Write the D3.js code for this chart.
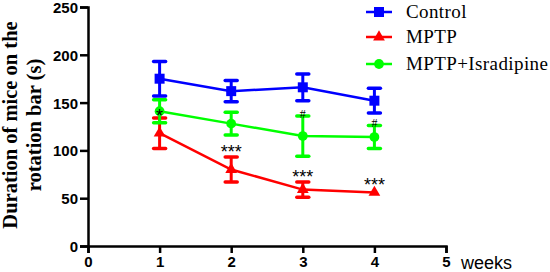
<!DOCTYPE html>
<html>
<head>
<meta charset="utf-8">
<script src="https://cdn.jsdelivr.net/npm/d3@7"></script>
<style>
  body { margin: 0; background: #fff; }
  svg { display: block; }
</style>
</head>
<body>
<div id="chart"></div>
<script>
// weeks on the x axis
const weeks = [1, 2, 3, 4];
const xTicks = [0, 1, 2, 3, 4, 5];
const yTicks = [0, 50, 100, 150, 200, 250];

// mean duration (s) and error (SEM) per group
const controlMean = [175, 162, 166, 152];
const controlErr = [18, 11, 14, 13];
const mptpMean = [118, 80, 59, 56];
const mptpErr = [16, 13, 8, 0];
const israMean = [141, 128, 115, 114];
const israErr = [12, 12, 21, 12];

const seriesNames = ["Control", "MPTP", "MPTP+Isradipine"];

// significance marks: week, y value, label
const starMarks = [[1, 130, "*"], [2, 92, "***"], [3, 66, "***"], [4, 58, "***"]];
const hashMarks = [[3, 134, "#"], [4, 124, "#"]];

const width = 550, height = 272;
const margin = { top: 7, right: 103, bottom: 26, left: 88 };

const svg = d3.select("#chart").append("svg")
    .attr("width", width)
    .attr("height", height);

const x = d3.scaleLinear()
    .domain([0, 5])
    .range([margin.left, width - margin.right - 1]);

const y = d3.scaleLinear()
    .domain([0, 250])
    .range([height - margin.bottom, margin.top]);

const series = [
    { name: seriesNames[0], mean: controlMean, err: controlErr, color: "#0000ff", shape: d3.symbolSquare, size: 100 },
    { name: seriesNames[1], mean: mptpMean, err: mptpErr, color: "#ff0000", shape: d3.symbolTriangle, size: 60 },
    { name: seriesNames[2], mean: israMean, err: israErr, color: "#00ff00", shape: d3.symbolCircle, size: 75 }
];

// axes
const yAxis = svg.append("g")
    .attr("transform", "translate(" + x(0) + ",0)")
    .call(d3.axisLeft(y).tickValues(yTicks).tickFormat(d3.format("d")).tickSize(8).tickPadding(2));
const xAxis = svg.append("g")
    .attr("transform", "translate(0," + y(0) + ")")
    .call(d3.axisBottom(x).tickValues(xTicks).tickFormat(d3.format("d")).tickSize(7).tickPadding(3));

[yAxis, xAxis].forEach(ax => {
    ax.select(".domain").attr("stroke", "#000").attr("stroke-width", 2.5);
    ax.selectAll(".tick line").attr("stroke", "#000").attr("stroke-width", 2.5);
    ax.selectAll(".tick text")
        .attr("fill", "#000")
        .style("font-family", "Liberation Sans, Arial, sans-serif")
        .style("font-weight", "bold")
        .style("font-size", "15px");
});
yAxis.selectAll(".tick text").attr("dy", "0.36em");

svg.append("text")
    .attr("x", 461)
    .attr("y", 269)
    .style("font-family", "Liberation Sans, Arial, sans-serif")
    .style("font-size", "18px")
    .text("weeks");

// y axis title
const yTitle = svg.append("text")
    .attr("transform", "translate(0," + 125 + ") rotate(-90)")
    .attr("text-anchor", "middle")
    .style("font-family", "Liberation Serif, Times New Roman, serif")
    .style("font-weight", "bold")
    .style("font-size", "20.5px");
yTitle.append("tspan").attr("x", 0).attr("y", 17).text("Duration of mice on the");
yTitle.append("tspan").attr("x", 0).attr("y", 41).text("rotation bar (s)");

const line = d3.line()
    .x((d, i) => x(weeks[i]))
    .y(d => y(d));

const capW = 6;

series.forEach(s => {
    const g = svg.append("g");
    g.append("path")
        .datum(s.mean)
        .attr("fill", "none")
        .attr("stroke", s.color)
        .attr("stroke-width", 2.5)
        .attr("d", line);

    const eb = g.selectAll(".eb")
        .data(s.mean.map((m, i) => ({ wk: weeks[i], m: m, e: s.err[i] })).filter(d => d.e > 0))
        .join("g");
    eb.append("line")
        .attr("x1", d => x(d.wk)).attr("x2", d => x(d.wk))
        .attr("y1", d => y(d.m - d.e)).attr("y2", d => y(d.m + d.e))
        .attr("stroke", s.color).attr("stroke-width", 3);
    [1, -1].forEach(sign => {
        eb.append("line")
            .attr("x1", d => x(d.wk) - capW).attr("x2", d => x(d.wk) + capW)
            .attr("y1", d => y(d.m + sign * d.e)).attr("y2", d => y(d.m + sign * d.e))
            .attr("stroke", s.color).attr("stroke-width", 3.5)
            .attr("stroke-linecap", "round");
    });

    g.selectAll(".pt")
        .data(s.mean)
        .join("path")
        .attr("transform", (d, i) => "translate(" + x(weeks[i]) + "," + y(d) + ")")
        .attr("d", d3.symbol().type(s.shape).size(s.size))
        .attr("fill", s.color);
});

// significance marks
svg.selectAll(".star")
    .data(starMarks)
    .join("text")
    .attr("x", d => x(d[0]))
    .attr("y", d => y(d[1]))
    .attr("text-anchor", "middle")
    .style("font-family", "Liberation Sans, Arial, sans-serif")
    .style("font-size", "18px")
    .attr("fill", "#000")
    .text(d => d[2]);

svg.selectAll(".hash")
    .data(hashMarks)
    .join("text")
    .attr("x", d => x(d[0]))
    .attr("y", d => y(d[1]))
    .attr("text-anchor", "middle")
    .style("font-family", "Liberation Serif, Times New Roman, serif")
    .style("font-size", "12px")
    .attr("fill", "#000")
    .text(d => d[2]);

// legend
const legend = svg.append("g")
    .selectAll("g")
    .data(series)
    .join("g")
    .attr("transform", (d, i) => "translate(366," + [12, 37, 64][i] + ")");
legend.append("line")
    .attr("x1", 0).attr("x2", 26)
    .attr("stroke", d => d.color).attr("stroke-width", 2.5);
legend.append("path")
    .attr("transform", "translate(13,0)")
    .attr("d", d => d3.symbol().type(d.shape).size(d.size)())
    .attr("fill", d => d.color);
legend.append("text")
    .attr("x", 40)
    .attr("dy", "0.33em")
    .style("font-family", "Liberation Serif, Times New Roman, serif")
    .style("font-size", "19px")
    .style("letter-spacing", "0.4px")
    .text(d => d.name);
</script>
</body>
</html>
